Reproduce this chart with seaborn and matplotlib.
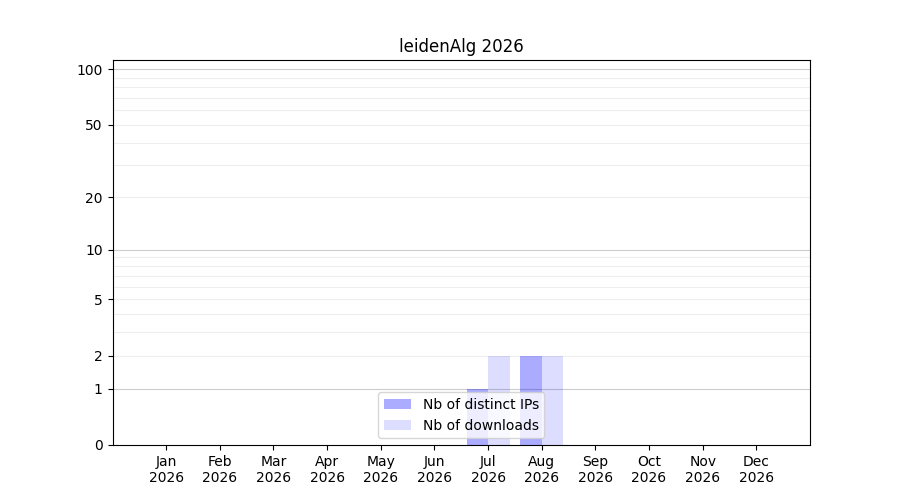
import numpy as np
import pandas as pd
import matplotlib
matplotlib.use('Agg')
import matplotlib.pyplot as plt
import seaborn as sns

months = ['Jan', 'Feb', 'Mar', 'Apr', 'May', 'Jun', 'Jul', 'Aug', 'Sep', 'Oct', 'Nov', 'Dec']
year = 2026
distinct_ips = [0, 0, 0, 0, 0, 0, 1, 2, 0, 0, 0, 0]
downloads = [0, 0, 0, 0, 0, 0, 2, 2, 0, 0, 0, 0]
y_ticks = [0, 1, 2, 5, 10, 20, 50, 100]

labels = [f'{m}\n{year}' for m in months]
df = pd.concat([
    pd.DataFrame({'month': labels, 'count': distinct_ips, 'series': 'Nb of distinct IPs'}),
    pd.DataFrame({'month': labels, 'count': downloads, 'series': 'Nb of downloads'}),
])

def fwd(y):
    return np.log10(1 + np.clip(y, 0, None))

def inv(y):
    return 10 ** y - 1

fig, ax = plt.subplots(figsize=(9, 5), dpi=100)
sns.barplot(data=df, x='month', y='count', hue='series', order=labels,
            palette=['blue', 'blue'], saturation=1, width=0.8, linewidth=0,
            legend=False, ax=ax)

# lighter fill for downloads
for cont, a in zip(ax.containers, [0.33, 0.135]):
    for p in cont:
        p.set_alpha(a)

ax.set_yscale('function', functions=(fwd, inv))
ax.set_ylim(0, 112)
ax.set_xlim(-1, 12)
ax.set_yticks(y_ticks)
ax.set_yticklabels([str(t) for t in y_ticks])
minor = [2, 3, 4, 5, 6, 7, 8, 9, 20, 30, 40, 50, 60, 70, 80, 90]
ax.yaxis.remove_overlapping_locs = False
ax.set_yticks(minor, minor=True)
ax.tick_params(axis='y', which='minor', length=0)
ax.yaxis.grid(True, which='minor', color='#eeeeee', linewidth=0.8)
for g in [1, 10, 100]:
    ax.axhline(g, color='#cccccc', linewidth=0.8, zorder=0.5)
ax.set_axisbelow(True)

ax.set_xlabel('')
ax.set_ylabel('')
ax.set_title(f'leidenAlg {year}')

handles = [ax.containers[0][0], ax.containers[1][0]]
ax.legend(handles, ['Nb of distinct IPs', 'Nb of downloads'], loc='lower center')

fig.savefig('out.png', dpi=100)
